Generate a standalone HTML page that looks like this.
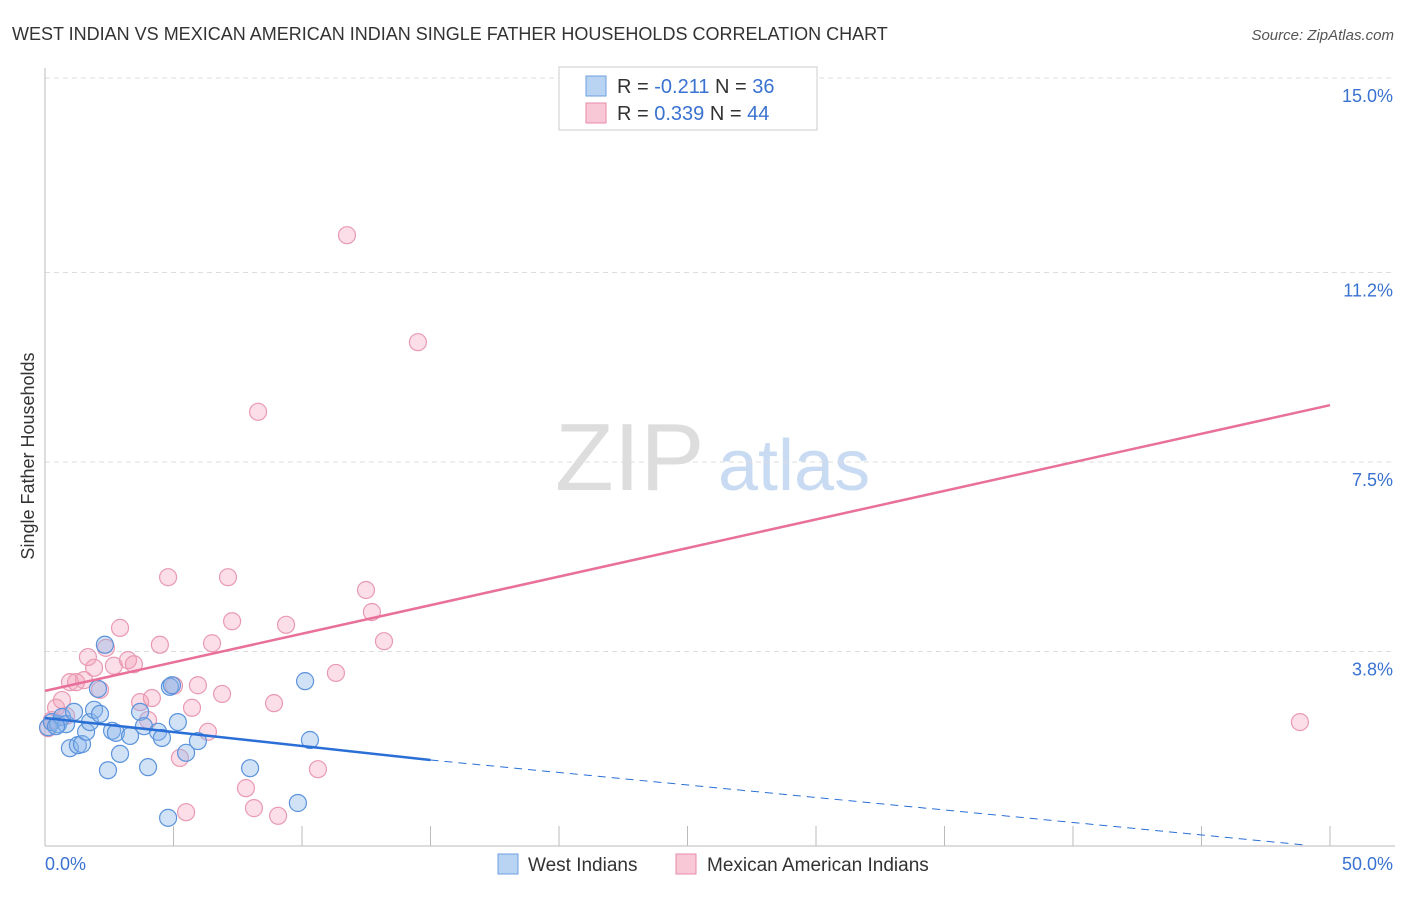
<!DOCTYPE html>
<html><head><meta charset="utf-8"><style>
body{margin:0;background:#fff;font-family:"Liberation Sans",sans-serif}
svg text{font-family:"Liberation Sans",sans-serif}
</style></head><body>
<svg id="chart" width="1406" height="892" xmlns="http://www.w3.org/2000/svg">
<text x="12" y="40" font-size="18" fill="#333">WEST INDIAN VS MEXICAN AMERICAN INDIAN SINGLE FATHER HOUSEHOLDS CORRELATION CHART</text>
<text x="1394" y="40" font-size="15" fill="#555" font-style="italic" text-anchor="end">Source: ZipAtlas.com</text>
<text x="555" y="490" font-size="96" fill="#ddd" font-family="Liberation Serif">ZIP</text>
<text x="718" y="490" font-size="72" fill="#c9dbf2">atlas</text>
<text x="34" y="456" font-size="18" fill="#333" text-anchor="middle" transform="rotate(-90 34 456)">Single Father Households</text>
<g id="grid"></g><g id="axes"></g><g id="pts"></g><g id="trends"></g>
<g>
<rect x="559" y="67" width="258" height="63" fill="#fff" stroke="#ccc"/>
<rect x="586" y="76" width="20" height="20" fill="#b9d3f3" stroke="#6d9ee0"/>
<text x="617" y="93" font-size="20" fill="#333">R = <tspan fill="#3a72d1">-0.211</tspan>   N = <tspan fill="#3a72d1">36</tspan></text>
<rect x="586" y="103" width="20" height="20" fill="#f8c8d6" stroke="#e88aa8"/>
<text x="617" y="120" font-size="20" fill="#333">R = <tspan fill="#3a72d1"> 0.339</tspan>   N = <tspan fill="#3a72d1">44</tspan></text>
</g>
<g>
<rect x="498" y="854" width="20" height="20" fill="#b9d3f3" stroke="#6d9ee0"/>
<text x="528" y="871" font-size="19" fill="#333">West Indians</text>
<rect x="676" y="854" width="20" height="20" fill="#f8c8d6" stroke="#e88aa8"/>
<text x="707" y="871" font-size="19" fill="#333">Mexican American Indians</text>
</g>
</svg>
<script>
const yTicks=[3.8,7.5,11.2,15.0];
const yTickLabels=["3.8%","7.5%","11.2%","15.0%"];
const xTickVals=[0,5,10,15,20,25,30,35,40,45,50];
const blueX=[0.12,0.27,0.51,0.66,0.82,0.97,1.13,1.28,1.44,1.60,1.75,1.91,2.06,2.14,2.33,2.45,2.61,2.76,2.92,3.31,3.70,3.85,4.01,4.40,4.55,4.79,4.86,4.94,5.17,5.49,5.95,7.98,9.84,10.12,10.31,0.43];
const blueY=[2.32,2.42,2.38,2.52,2.38,1.91,2.62,1.97,1.99,2.23,2.42,2.66,3.07,2.58,3.93,1.48,2.25,2.21,1.80,2.15,2.62,2.34,1.54,2.23,2.11,0.55,3.11,3.14,2.42,1.82,2.05,1.52,0.84,3.22,2.07,2.34];
const pinkX=[0.12,0.27,0.43,0.66,0.82,0.97,1.21,1.52,1.67,1.91,2.14,2.37,2.68,2.92,3.23,3.46,3.70,4.01,4.16,4.47,4.79,5.02,5.25,5.49,5.72,5.95,6.34,6.50,6.89,7.12,7.28,7.82,8.13,8.29,8.91,9.07,9.38,10.62,11.32,11.75,12.49,12.72,13.19,14.51,29.30,48.83];
const pinkY=[2.30,2.46,2.70,2.85,2.54,3.20,3.20,3.24,3.69,3.48,3.05,3.87,3.52,4.26,3.63,3.55,2.81,2.46,2.89,3.93,5.25,3.13,1.72,0.66,2.70,3.14,2.23,3.96,2.97,5.25,4.39,1.13,0.74,8.48,2.79,0.59,4.32,1.50,3.38,11.93,5.00,4.57,4.00,9.84,14.80,2.42];
const pinkTrend=[[0,3.03],[50,8.61]];
const blueTrendSolid=[[0,2.50],[15,1.68]];
const blueTrendDash=[[15,1.68],[49,0.02]];
const NS="http://www.w3.org/2000/svg";
const X=v=>45+v/50*1285, Y=v=>846-v*51.2;
function mk(t,a,p){const e=document.createElementNS(NS,t);for(const k in a)e.setAttribute(k,a[k]);document.getElementById(p).appendChild(e);return e;}
yTicks.forEach((v,i)=>{const l=mk('line',{x1:45,x2:1395,y1:Y(v),y2:Y(v),stroke:'#ddd','stroke-dasharray':'5,4'},'grid');


const t=mk('text',{x:1393,y:Y(v)+24,'font-size':18,fill:'#3a72d1','text-anchor':'end'},'grid');t.textContent=yTickLabels[i];

});
const ax=mk('line',{x1:45,x2:45,y1:68,y2:846,stroke:'#bbb'},'axes');


const bx=mk('line',{x1:45,x2:1395,y1:846,y2:846,stroke:'#bbb'},'axes');


xTickVals.forEach(v=>{const t=mk('line',{x1:X(v),x2:X(v),y1:826,y2:846,stroke:'#bbb'},'axes');

});
[["0.0%",45,'start'],["50.0%",1393,'end']].forEach(a=>{const t=mk('text',{x:a[1],y:870,'font-size':18,fill:'#3a72d1','text-anchor':a[2]},'axes');t.textContent=a[0];

});
pinkX.forEach((v,i)=>{const c=mk('circle',{cx:X(v),cy:Y(pinkY[i]),r:8.5,fill:'rgba(244,160,185,0.35)',stroke:'#e99ab2','stroke-width':1.2},'pts');

});
blueX.forEach((v,i)=>{const c=mk('circle',{cx:X(v),cy:Y(blueY[i]),r:8.5,fill:'rgba(140,182,236,0.4)',stroke:'#5b93dc','stroke-width':1.2},'pts');

});
const pt=mk('line',{x1:X(pinkTrend[0][0]),y1:Y(pinkTrend[0][1]),x2:X(pinkTrend[1][0]),y2:Y(pinkTrend[1][1]),stroke:'#e8709a','stroke-width':2.5},'trends');


const bt=mk('line',{x1:X(blueTrendSolid[0][0]),y1:Y(blueTrendSolid[0][1]),x2:X(blueTrendSolid[1][0]),y2:Y(blueTrendSolid[1][1]),stroke:'#2a6fd6','stroke-width':2.5},'trends');


const bd=mk('line',{x1:X(blueTrendDash[0][0]),y1:Y(blueTrendDash[0][1]),x2:X(blueTrendDash[1][0]),y2:Y(blueTrendDash[1][1]),stroke:'#2a6fd6','stroke-width':1,'stroke-dasharray':'8,6'},'trends');


</script>
</body></html>
